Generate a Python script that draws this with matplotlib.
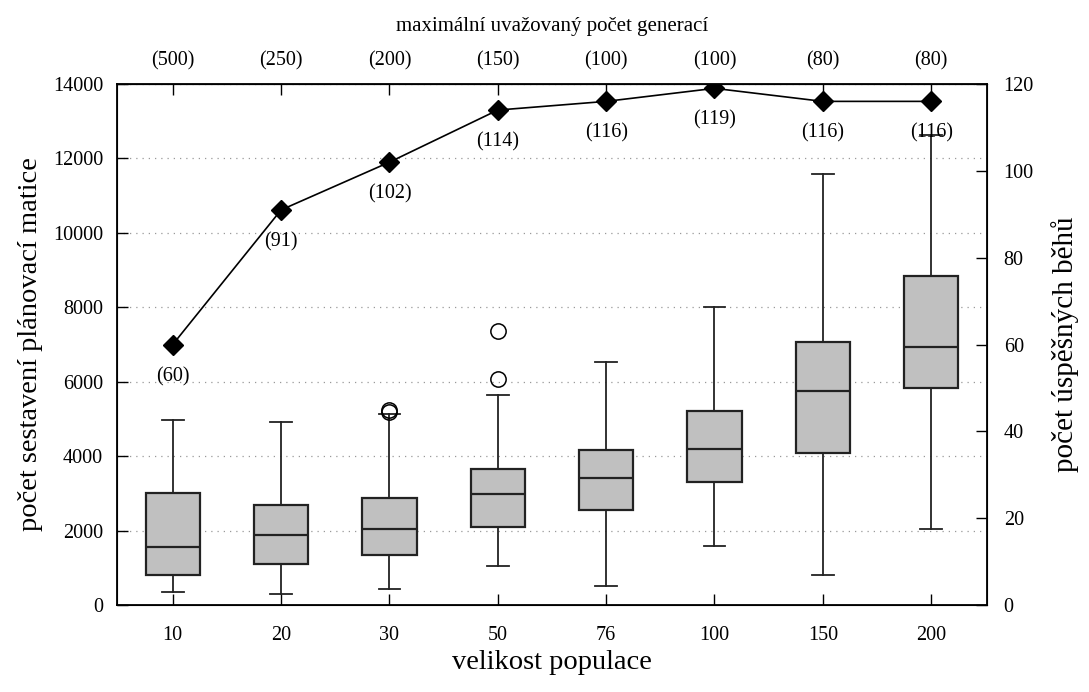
import matplotlib
matplotlib.use("Agg")
import matplotlib.pyplot as plt

plt.rcParams["font.family"] = ["Liberation Serif", "DejaVu Serif"]

# ---------------- DATA ----------------
populace = ["10", "20", "30", "50", "76", "100", "150", "200"]
generace = ["(500)", "(250)", "(200)", "(150)", "(100)", "(100)", "(80)", "(80)"]

whislo = [360, 290, 430, 1040, 520, 1590, 800, 2040]
q1 = [800, 1110, 1340, 2090, 2540, 3300, 4090, 5830]
med = [1560, 1890, 2030, 2970, 3410, 4200, 5740, 6940]
q3 = [3020, 2700, 2880, 3650, 4170, 5200, 7080, 8830]
whishi = [4980, 4920, 5140, 5650, 6540, 8010, 11580, 12640]
fliers = [[], [], [5180, 5240], [6060, 7360], [], [], [], []]

uspesne = [60, 91, 102, 114, 116, 119, 116, 116]

# ---------------- GRAF ----------------
fig = plt.figure(figsize=(10.89, 6.92), dpi=100)
ax = fig.add_axes([0.1074, 0.1257, 0.7989, 0.7529])

pos = list(range(1, len(populace) + 1))
stats = []
for i in range(len(populace)):
    stats.append({
        "whislo": whislo[i], "q1": q1[i], "med": med[i],
        "q3": q3[i], "whishi": whishi[i], "fliers": fliers[i],
    })

ax.bxp(
    stats, positions=pos, widths=0.5, patch_artist=True,
    boxprops=dict(facecolor="#c0c0c0", edgecolor="#222222", linewidth=1.6),
    medianprops=dict(color="#222222", linewidth=1.6),
    whiskerprops=dict(color="#222222", linewidth=1.3),
    capprops=dict(color="#222222", linewidth=1.3),
    capwidths=0.2,
    flierprops=dict(marker="o", markersize=11, markerfacecolor="none",
                    markeredgecolor="black", markeredgewidth=1.1),
    zorder=3,
)

ax.set_xlim(0.485, 8.515)
ax.set_ylim(0, 14000)
ax.set_xticks(pos)
ax.set_xticklabels(populace)
ax.set_yticks(range(0, 14001, 2000))
ax.yaxis.grid(True, linestyle=(0, (1, 4)), color="#999999", linewidth=0.9)
ax.set_axisbelow(True)
ax.tick_params(axis="both", direction="in", length=8, width=1, labelsize=14.5, pad=10)
ax.tick_params(axis="x", pad=15)
ax.tick_params(axis="y", right=False)
for s in ax.spines.values():
    s.set_linewidth(1.3)

ax.set_xlabel("velikost populace", fontsize=20.5, labelpad=4)
ax.set_ylabel("počet sestavení plánovací matice", fontsize=20.5, labelpad=7)

# horni osa - maximalni pocet generaci
top = ax.secondary_xaxis("top")
top.set_xticks(pos)
top.set_xticklabels(generace)
top.tick_params(direction="in", length=8, width=1, labelsize=14.5, pad=10)
top.set_xlabel("maximální uvažovaný počet generací", fontsize=15, labelpad=14)

# prava osa - pocet uspesnych behu
ax2 = ax.twinx()
ax2.set_ylim(0, 120)
ax2.set_yticks(range(0, 121, 20))
ax2.tick_params(axis="y", direction="in", length=8, width=1, labelsize=14.5, pad=12)
ax2.set_ylabel("počet úspěšných běhů", fontsize=21, labelpad=12)
ax2.plot(pos, uspesne, color="black", linewidth=1.2, marker="D",
         markersize=10, zorder=5)
for x, v in zip(pos, uspesne):
    ax2.annotate(f"({v})", (x, v), xytext=(0, -16), textcoords="offset points",
                 ha="center", va="top", fontsize=14.5)

plt.savefig("out.png", dpi=100)
plt.close()
